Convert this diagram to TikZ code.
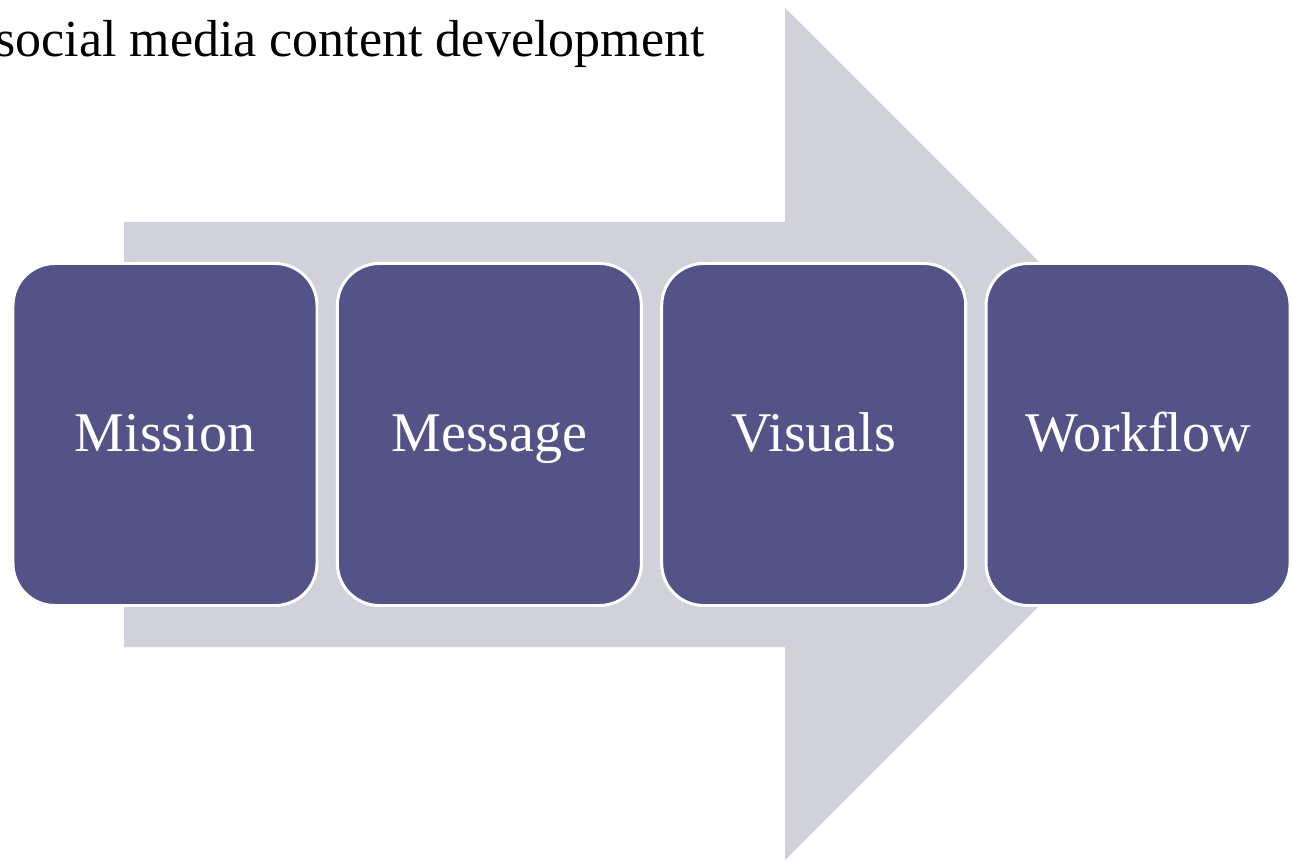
\documentclass[tikz,border=0pt]{standalone}
\usepackage{fontspec}
\setmainfont{Liberation Serif}
\definecolor{stagefill}{RGB}{83,83,136}
\definecolor{arrowgray}{RGB}{208,209,218}
\begin{document}
\begin{tikzpicture}[stage/.style={draw=white,line width=1.7pt,fill=stagefill,rounded corners=0.84cm,
  minimum width=6.08cm,minimum height=6.84cm,text height=0.9cm,text depth=0.2cm,
  text=white,font=\fontsize{31.9}{38}\selectfont}]
\useasboundingbox (0,0) rectangle (25.84,17.2);
% big block arrow behind the stages
\coordinate (tailbot) at (2.48,4.26);
\coordinate (tailtop) at (2.48,12.76);
\coordinate (tip) at (24.22,8.52);
\fill[arrowgray] (tailbot) -- (tailtop) -- (15.7,12.76) -- (15.7,17.04) -- (tip)
  -- (15.7,0) -- (15.7,4.26) -- cycle;
\node[anchor=base west,inner sep=0pt,font=\fontsize{29.6}{35}\selectfont] (title) at (-0.1,16.06)
  {social media content development};
\foreach \i/\txt in {0/Mission,1/Message,2/Visuals,3/Workflow}
  \node[stage] (s\i) at ({3.3+6.487*\i},8.51) {\txt};
\end{tikzpicture}
\end{document}
